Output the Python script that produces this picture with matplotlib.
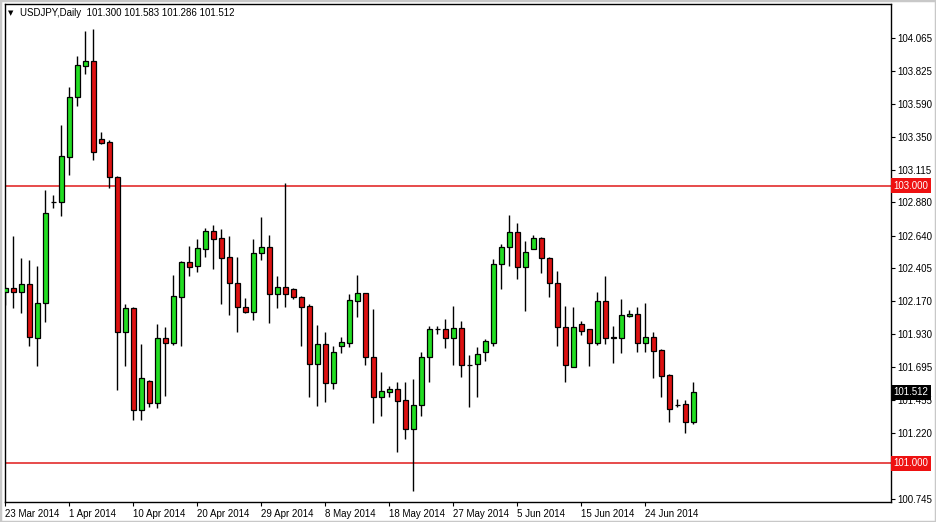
import numpy as np
import matplotlib.pyplot as plt
from matplotlib.patches import Rectangle

plt.rcParams["font.family"] = ["Liberation Sans", "DejaVu Sans"]

# USDJPY daily bars, 23 Mar 2014 .. 1 Jul 2014
opens = [
    102.231, 102.263, 102.232, 102.289, 101.900, 102.152, 102.880, 102.884, 103.208, 103.636,
    103.863, 103.895, 103.335, 103.311, 103.062, 101.944, 102.116, 101.384, 101.593, 101.432,
    101.900, 101.864, 102.200, 102.450, 102.423, 102.545, 102.673, 102.620, 102.484, 102.296,
    102.126, 102.088, 102.512, 102.556, 102.217, 102.268, 102.253, 102.196, 102.133, 101.713,
    101.859, 101.576, 101.847, 101.869, 102.171, 102.224, 101.764, 101.476, 101.512, 101.533,
    101.454, 101.250, 101.418, 101.764, 101.965, 101.965, 101.900, 101.972, 101.708, 101.713,
    101.804, 101.864, 102.433, 102.556, 102.664, 102.412, 102.545, 102.620, 102.476, 102.296,
    101.984, 101.696, 102.001, 101.965, 101.869, 102.169, 101.905, 101.900, 102.059, 102.073,
    101.869, 101.910, 101.816, 101.636, 101.420, 101.425, 101.300,
]
highs = [
    102.270, 102.637, 102.481, 102.464, 102.421, 102.968, 102.932, 103.434, 103.707, 103.933,
    104.113, 104.127, 103.386, 103.328, 103.069, 102.145, 102.124, 101.859, 101.600, 102.003,
    101.980, 102.356, 102.459, 102.565, 102.615, 102.697, 102.716, 102.685, 102.637, 102.484,
    102.191, 102.615, 102.776, 102.644, 102.349, 103.016, 102.261, 102.205, 102.145, 101.996,
    101.944, 101.845, 101.908, 102.219, 102.356, 102.228, 102.114, 101.656, 101.557, 101.584,
    101.584, 101.605, 101.804, 101.991, 101.989, 102.039, 102.133, 102.023, 101.780, 101.840,
    101.894, 102.469, 102.579, 102.788, 102.728, 102.599, 102.644, 102.632, 102.488, 102.385,
    102.133, 102.124, 102.025, 101.967, 102.234, 102.349, 101.989, 102.183, 102.104, 102.124,
    102.157, 101.944, 101.821, 101.640, 101.461, 101.456, 101.583,
]
lows = [
    102.141, 102.116, 102.085, 101.847, 101.703, 102.020, 102.841, 102.783, 103.078, 103.573,
    103.803, 103.184, 103.297, 102.985, 101.528, 101.703, 101.312, 101.312, 101.408, 101.401,
    101.487, 101.852, 101.847, 102.349, 102.380, 102.488, 102.402, 102.147, 102.068, 101.948,
    102.085, 102.034, 102.464, 102.013, 102.116, 102.124, 102.181, 101.847, 101.480, 101.415,
    101.444, 101.533, 101.797, 101.836, 102.052, 101.708, 101.293, 101.343, 101.476, 101.084,
    101.173, 100.803, 101.343, 101.584, 101.929, 101.828, 101.708, 101.624, 101.408, 101.480,
    101.737, 101.847, 102.255, 102.423, 102.325, 102.099, 102.541, 102.368, 102.200, 101.847,
    101.588, 101.693, 101.924, 101.703, 101.852, 101.859, 101.725, 101.797, 102.057, 101.804,
    101.804, 101.612, 101.476, 101.300, 101.408, 101.221, 101.286,
]
closes = [
    102.261, 102.232, 102.289, 101.908, 102.152, 102.800, 102.884, 103.213, 103.636, 103.866,
    103.895, 103.244, 103.309, 103.059, 101.944, 102.116, 101.384, 101.612, 101.432, 101.900,
    101.864, 102.205, 102.448, 102.416, 102.548, 102.673, 102.618, 102.481, 102.296, 102.124,
    102.092, 102.512, 102.556, 102.217, 102.270, 102.217, 102.196, 102.128, 101.713, 101.859,
    101.576, 101.800, 101.872, 102.176, 102.224, 101.764, 101.476, 101.523, 101.533, 101.451,
    101.250, 101.418, 101.764, 101.965, 101.967, 101.900, 101.972, 101.708, 101.711, 101.785,
    101.879, 102.433, 102.556, 102.664, 102.412, 102.520, 102.620, 102.476, 102.296, 101.984,
    101.708, 101.980, 101.955, 101.869, 102.169, 101.900, 101.907, 102.066, 102.073, 101.869,
    101.910, 101.811, 101.631, 101.394, 101.418, 101.296, 101.512,
]

date_labels = ["23 Mar 2014", "1 Apr 2014", "10 Apr 2014", "20 Apr 2014", "29 Apr 2014",
               "8 May 2014", "18 May 2014", "27 May 2014", "5 Jun 2014", "15 Jun 2014",
               "24 Jun 2014"]
price_ticks = [104.065, 103.825, 103.590, 103.350, 103.115, 102.880, 102.640, 102.405,
               102.170, 101.930, 101.695, 101.455, 101.220, 100.745]
hlines = [103.000, 101.000]

o = np.array(opens)
h = np.array(highs)
l = np.array(lows)
c = np.array(closes)
x = np.arange(len(o))

bull = "#22dd22"
bear = "#dd1111"
line_red = "#e01a1a"

fig = plt.figure(figsize=(9.36, 5.22), dpi=100)
fig.patch.set_facecolor("white")
ax = fig.add_axes([5 / 936, 20 / 522, 886 / 936, 498 / 522])

# horizontal levels
for lv in hlines:
    ax.axhline(lv, color=line_red, lw=1.1, zorder=1)

# wicks, then bodies
ax.vlines(x, l, h, color="black", lw=1.0, zorder=2)
up = c >= o
body = np.where(np.abs(c - o) < 0.002, 0.002 * np.where(up, 1, -1), c - o)
ax.bar(x, body, bottom=o, width=0.62, color=np.where(up, bull, bear),
       edgecolor="black", linewidth=0.9, zorder=3)

ax.set_xlim(-0.05, (891 - 5.3) / 8)
ax.set_ylim(100.722, 104.307)

# axes / ticks in MT4 style
for s in ax.spines.values():
    s.set_color("black")
    s.set_linewidth(1)
ax.yaxis.tick_right()
ax.set_yticks(price_ticks)
ax.set_yticklabels([f"{v:.3f}" for v in price_ticks], fontsize=7)
ax.tick_params(axis="y", direction="out", length=3, width=0.8, pad=1.5)

ax.set_xticks(np.arange(0, 8 * len(date_labels), 8))
ax.set_xticklabels(date_labels, fontsize=7, ha="left")
ax.tick_params(axis="x", direction="out", length=3, width=0.8, pad=2)

# price labels on the right axis
ytr = ax.get_yaxis_transform()
for lv in hlines:
    ax.text(1.003, lv, f"{lv:.3f}", transform=ytr, fontsize=7, color="white",
            va="center", ha="left", clip_on=False, zorder=10,
            bbox=dict(boxstyle="square,pad=0.25", fc="#ee1111", ec="none"))
ax.text(1.003, c[-1], f"{c[-1]:.3f}", transform=ytr, fontsize=7, color="white",
        va="center", ha="left", clip_on=False, zorder=10,
        bbox=dict(boxstyle="square,pad=0.25", fc="black", ec="none"))

# header
fig.text(8 / 936, 1 - 13 / 522, "\u25BC", fontsize=5, va="center", ha="left",
         family="DejaVu Sans")
fig.text(20 / 936, 1 - 13 / 522,
         f"USDJPY,Daily  {o[-1]:.3f} {h[-1]:.3f} {l[-1]:.3f} {c[-1]:.3f}",
         fontsize=7, va="center", ha="left")

# window frame
fig.patches.append(Rectangle((0, 0), 1, 1, transform=fig.transFigure, fill=False,
                             ec="#c8c8c8", lw=2.5))

fig.savefig("out.png", dpi=100)
